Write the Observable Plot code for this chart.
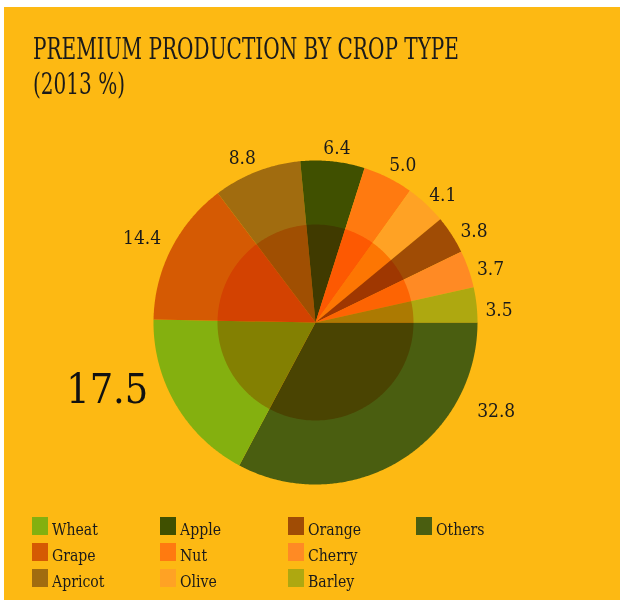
<!DOCTYPE html>
<html>
<head>
<meta charset="utf-8">
<script src="https://cdn.jsdelivr.net/npm/d3@7"></script>
<script src="https://cdn.jsdelivr.net/npm/@observablehq/plot@0.6"></script>
<style>
  html, body { margin: 0; padding: 0; background: #ffffff; }
  body { width: 620px; height: 600px; position: relative; overflow: hidden; font-family: "DejaVu Serif Condensed", "DejaVu Serif", serif; color: #1a1a1a; }
  #panel { position: absolute; left: 4px; top: 7px; right: 0; bottom: 0; background: #FDB913; }
  #chart { position: absolute; left: 0; top: 0; }
  #title { position: absolute; left: 33px; top: 32px; font-size: 29px; line-height: 35px; white-space: nowrap; }
  #title span { display: inline-block; transform-origin: 0 50%; }
  #legend { position: absolute; left: 32px; top: 517px; display: grid; grid-template-rows: repeat(3, 26px); grid-auto-flow: column; grid-auto-columns: 128px; }
  .item { display: flex; align-items: flex-start; font-size: 17px; line-height: 18px; }
  .sw { width: 16px; height: 18px; margin-right: 4px; flex: none; }
  .item span.t { display: inline-block; transform-origin: 0 50%; padding-top: 3px; transform: scaleX(0.92); }
</style>
</head>
<body>
<div id="panel"></div>
<div id="chart"></div>
<div id="title"><span id="t1">PREMIUM PRODUCTION BY CROP TYPE</span><br><span id="t2">(2013 %)</span></div>
<div id="legend"></div>
<script>
// ---- data ----
const crops  = ["Others", "Wheat", "Grape", "Apricot", "Apple", "Nut", "Olive", "Orange", "Cherry", "Barley"];
const shares = [32.8, 17.5, 14.4, 8.8, 6.4, 5.0, 4.1, 3.8, 3.7, 3.5];
const cropColors = ["#4A5E10", "#84B00F", "#D55A03", "#A16C0F", "#405000", "#FF7A10", "#FFA224", "#A04C05", "#FF8A24", "#AEA810"];
const legendOrder = ["Wheat", "Grape", "Apricot", "Apple", "Nut", "Olive", "Orange", "Cherry", "Barley", "Others"];

// ---- layout (not data) ----
const bg = "#FDB913";
const cx = 315, cy = 322, R = 162, innerR = 98, startDeg = 90;
const labelPlacement = {
  Others: [116, 201], Wheat: [252, 219], Grape: [296, 193], Apricot: [336, 180],
  Apple: [7, 176], Nut: [29, 180], Olive: [45, 180], Orange: [60, 183], Cherry: [73, 183], Barley: [86, 184]
};

const rad = d => d * Math.PI / 180;
// build slice polygons from values
const total = d3.sum(shares);
let cum = 0;
const slices = crops.map((name, i) => {
  const a0 = startDeg + cum / total * 360;
  cum += shares[i];
  const a1 = startDeg + cum / total * 360;
  return {name, value: shares[i], a0, a1};
});
const points = [];
for (const s of slices) {
  points.push({name: s.name, x: 0, y: 0});
  const n = Math.max(2, Math.ceil((s.a1 - s.a0) / 0.5));
  for (let k = 0; k <= n; k++) {
    const a = rad(s.a0 + (s.a1 - s.a0) * k / n);
    points.push({name: s.name, x: R * Math.sin(a), y: R * Math.cos(a)});
  }
}
const innerPts = d3.range(0, 361, 1).map(d => ({x: innerR * Math.sin(rad(d)), y: innerR * Math.cos(rad(d))}));
const labels = slices.map(s => {
  const [ang, r] = labelPlacement[s.name];
  return {name: s.name, text: s.value.toFixed(1), x: r * Math.sin(rad(ang)), y: r * Math.cos(rad(ang)), big: s.name === "Wheat"};
});

const plot = Plot.plot({
  width: 620, height: 600,
  margin: 0,
  style: {background: "transparent", overflow: "visible"},
  x: {domain: [-cx, 620 - cx], range: [0, 620], axis: null},
  y: {domain: [cy - 600, cy], range: [600, 0], axis: null},
  color: {domain: crops, range: cropColors},
  marks: [
    Plot.line(points, {x: "x", y: "y", z: "name", fill: "name", stroke: "none", curve: "linear-closed"}),
    Plot.line(innerPts, {x: "x", y: "y", fill: bg, stroke: "none", curve: "linear-closed", mixBlendMode: "multiply"}),
    Plot.text(labels.filter(d => !d.big), {x: "x", y: "y", text: "text", fontSize: 19, fill: "#1a1a1a", fontFamily: "DejaVu Serif Condensed, DejaVu Serif, serif"}),
    Plot.text(labels.filter(d => d.big), {x: "x", y: "y", text: "text", fontSize: 41, letterSpacing: -2, fill: "#111", fontFamily: "DejaVu Serif Condensed, DejaVu Serif, serif"})
  ]
});
document.getElementById("chart").append(plot);

// legend
const colorOf = Object.fromEntries(crops.map((c, i) => [c, cropColors[i]]));
const leg = document.getElementById("legend");
for (const name of legendOrder) {
  const item = document.createElement("div");
  item.className = "item";
  item.innerHTML = `<div class="sw" style="background:${colorOf[name]}"></div><span class="t">${name}</span>`;
  leg.append(item);
}
// fit title width to the reference's condensed face
const t1 = document.getElementById("t1"), t2 = document.getElementById("t2");
const w = t1.getBoundingClientRect().width;
const sx = 426 / w;
t1.style.transform = `scaleX(${sx})`;
t2.style.transform = `scaleX(${sx})`;
</script>
</body>
</html>
